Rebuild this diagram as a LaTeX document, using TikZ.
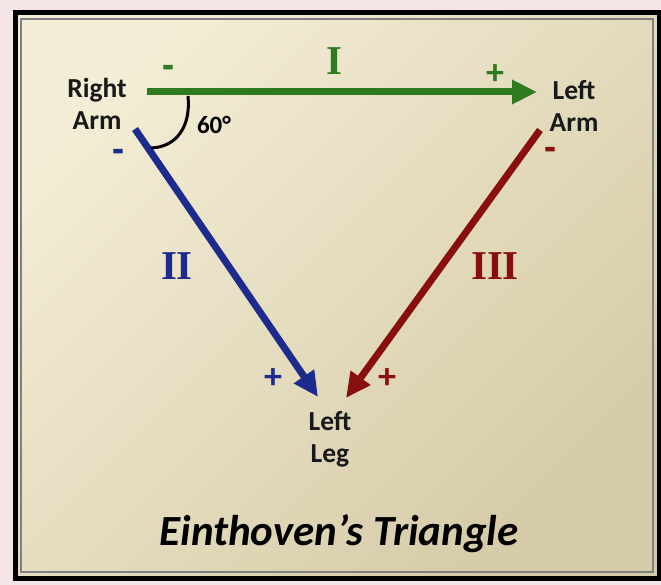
\documentclass[tikz,border=0pt]{standalone}
\usepackage{fontspec}
\setmainfont{Carlito}
\newfontfamily\romanfont{Liberation Serif}
\newfontfamily\signfont[FakeBold=3]{Carlito Bold}
\usetikzlibrary{arrows.meta}
\definecolor{leadI}{HTML}{2E7A1E}
\definecolor{leadII}{HTML}{1D2B8C}
\definecolor{leadIII}{HTML}{890E0E}
\definecolor{paper}{HTML}{F3EDD5}
\definecolor{paperdark}{HTML}{D6CBA8}
\definecolor{backpink}{HTML}{F5E5E6}

\begin{document}
\begin{tikzpicture}[x=1pt,y=-1pt,
  lead/.style={-{Triangle[length=25pt,width=23pt]},line width=7pt},
  limb/.style={font=\bfseries\fontsize{27.5}{32}\selectfont,align=center,text=black!90,inner sep=1pt},
  numeral/.style={font=\romanfont\bfseries\fontsize{41}{41}\selectfont},
  sign/.style={font=\bfseries\fontsize{36}{36}\selectfont,inner sep=0pt},
  minus/.style={font=\signfont\fontsize{34}{34}\selectfont,inner sep=0pt},
]
\useasboundingbox (0,0) rectangle (661,585);
\fill[backpink] (0,0) rectangle (661,585);
\shade[top color=paper,bottom color=paperdark,shading angle=45] (15,13) rectangle (659,578);
\draw[line width=5pt] (15,13) rectangle (659,578);
\draw[black!50,line width=1.2pt] (21,19) rectangle (653,572);

\node[limb] (ra) at (97,104) {Right\\Arm};
\node[limb] (la) at (574,106) {Left\\Arm};
\node[limb] (ll) at (330,439) {Left\\Leg};

\coordinate (raI) at (147,92);
\coordinate (laI) at (537,92);
\coordinate (raII) at (135,129);
\coordinate (llII) at (318,397);
\coordinate (laIII) at (540,130);
\coordinate (llIII) at (346,398);

\draw[lead,leadI] (raI) -- (laI);
\draw[lead,leadII] (raII) -- (llII);
\draw[lead,leadIII] (laIII) -- (llIII);

\coordinate (arcA) at (188,96);
\coordinate (arcB) at (151,148);
\draw[line width=3pt] (arcA) .. controls (191,126) and (177,147) .. (arcB);
\node[font=\bfseries\fontsize{25}{25}\selectfont] (ang) at (214,125) {60°};

\node[numeral,text=leadI] (nI) at (334,61) {I};
\node[numeral,text=leadII] (nII) at (177,266) {II};
\node[numeral,text=leadIII] (nIII) at (495,266) {III};

\node[minus,text=leadI] (mI) at (168,71) {-};
\node[sign,text=leadI] (pI) at (495,75) {+};
\node[minus,text=leadII] (mII) at (118,155) {-};
\node[sign,text=leadII] (pII) at (273,379) {+};
\node[minus,text=leadIII] (mIII) at (550,153) {-};
\node[sign,text=leadIII] (pIII) at (387,379) {+};

\node[font=\bfseries\itshape\fontsize{43}{43}\selectfont,anchor=base] (title) at (339,545) {Einthoven’s Triangle};
\end{tikzpicture}
\end{document}
